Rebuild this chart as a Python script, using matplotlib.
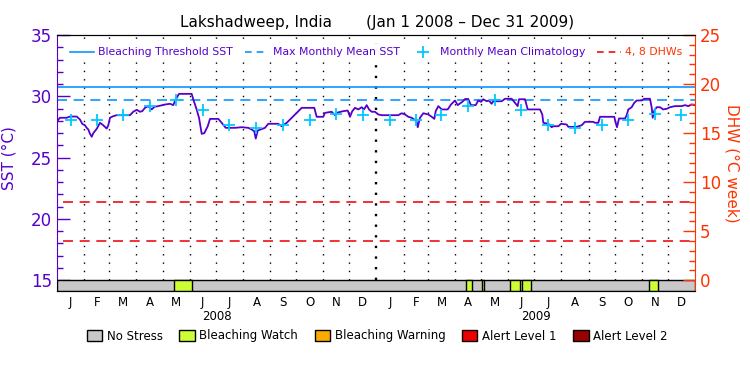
import matplotlib
matplotlib.use('Agg')
import matplotlib.pyplot as plt
import matplotlib.patches as mpatches
import matplotlib.transforms as mtransforms
from matplotlib.lines import Line2D
import pandas as pd

plt.rcParams['font.family'] = ['DejaVu Sans']

# SST (deg C) vs day number since Jan 1 2008
sst_day = [0, 1.5, 3.4, 11, 15, 22.6, 26.4, 29, 32, 34, 35.9, 37.8, 39.8, 41.6, 45.5, 49.3,
           53, 57, 58.8, 60.7, 64.5, 68.4, 83.6, 87.4, 91.3, 95.1, 97.7, 100.8, 104.6, 108.5,
           111.5, 116, 123.7, 129.5, 133.2, 136, 139.8, 154.3, 156.2, 160, 162.7, 164.6, 165.8,
           168.8, 172.7, 175.3, 184.8, 188.7, 193.3, 203.9, 211.6, 219.2, 223.1, 226, 227.7,
           230, 238.3, 242.1, 253.5, 257.4, 263.2, 272.7, 280.4, 294.8, 297.5, 305.1, 307,
           314.7, 318.5, 321.6, 328, 333.1, 335.7, 338.3, 341.4, 345.2, 349.1, 351.7, 354.8,
           357.5, 360.5, 364.3, 368.1, 372, 391, 394.9, 398.7, 402.5, 406.4, 409.4, 412.1,
           413.3, 415.9, 419.7, 425.4, 429.3, 432.3, 433.9, 436.9, 440.8, 447.6, 451.4, 456,
           459.1, 464.4, 467.5, 471.2, 474.3, 479.7, 482.7, 485.8, 488.4, 492.3, 494.9, 498,
           499.8, 509.5, 513.3, 520.9, 524.7, 527.8, 529.3, 536.2, 539.3, 553.4, 556, 557.2,
           562.9, 566.8, 568.6, 574.4, 577.5, 584, 585.8, 595.4, 601.1, 604.9, 614.4, 616.4,
           620.2, 622.1, 638.5, 640.1, 641.6, 643.9, 650.8, 652.7, 654.6, 658.4, 661.4, 664.2,
           669.9, 672.9, 679.4, 681.4, 682.5, 684.3, 687.1, 690.9, 694.6, 698.5, 702.3, 708,
           715.7, 719.5, 723.3, 727.2, 731]
sst_val = [27.86, 28.1, 28.25, 28.25, 28.35, 28.35, 28.1, 27.75, 27.64, 27.43, 27.29, 26.94,
           26.7, 27.0, 27.35, 27.84, 27.64, 27.37, 27.64, 28.25, 28.38, 28.46, 28.46, 28.74,
           28.9, 28.74, 28.79, 29.06, 29.2, 28.93, 29.14, 29.2, 29.33, 29.39, 29.28, 29.74,
           30.2, 30.2, 29.74, 28.93, 28.25, 27.43, 26.94, 27.0, 27.56, 28.16, 28.16, 27.84,
           27.43, 27.43, 27.48, 27.43, 27.29, 27.15, 26.55, 27.21, 27.43, 27.76, 27.76, 27.56,
           27.84, 28.52, 29.06, 29.06, 28.33, 28.33, 28.65, 28.74, 28.46, 28.68, 28.79, 28.84,
           28.33, 28.79, 29.06, 28.93, 29.11, 28.93, 29.28, 28.93, 28.74, 28.74, 28.52, 28.46,
           28.46, 28.62, 28.52, 28.33, 28.25, 28.1, 27.92, 27.48, 28.25, 28.62, 28.52, 28.33,
           28.16, 28.79, 29.2, 28.93, 28.93, 29.33, 29.66, 29.28, 29.55, 29.78, 29.78, 29.28,
           29.28, 29.66, 29.55, 29.76, 29.6, 29.66, 29.39, 29.6, 29.6, 29.8, 29.8, 29.47, 29.2,
           29.76, 29.76, 28.93, 28.93, 28.52, 27.84, 27.76, 27.48, 27.56, 27.56, 27.76, 27.7,
           27.51, 27.51, 27.64, 27.92, 27.92, 27.84, 27.84, 28.33, 28.33, 27.84, 27.48, 28.19,
           28.19, 28.46, 28.93, 29.11, 29.47, 29.66, 29.66, 29.8, 29.8, 29.06, 28.25, 28.84,
           29.11, 29.11, 28.93, 28.98, 29.11, 29.2, 29.2, 29.28, 29.2, 29.33, 29.28]

# monthly mean climatology, Jan..Dec
clim = [28.05, 28.05, 28.49, 29.25, 29.72, 28.87, 27.64, 27.38, 27.64, 28.05, 28.58, 28.49]
mmm = 29.72
threshold = mmm + 1.0
dhw_levels = [4, 8]

# stress strip: bleaching watch periods (start day, end day)
watch_start = [134.4, 468.7, 487.5, 518.6, 532.4, 677.9]
watch_end = [154.9, 475.4, 489.1, 530.2, 543.5, 688.4]

month_letters = ['J', 'F', 'M', 'A', 'M', 'J', 'J', 'A', 'S', 'O', 'N', 'D']
years = ['2008', '2009']

purple = '#5500cc'
orange = '#ff3300'
blue = '#0a96ff'
cyan = '#00c8ff'

t0 = pd.Timestamp('2008-01-01')
bounds = [(d - t0).days for d in pd.date_range('2008-01-01', '2010-01-01', freq='MS')]
mids = [(bounds[i] + bounds[i + 1]) / 2 for i in range(len(bounds) - 1)]
ndays = bounds[-1]

fig = plt.figure(figsize=(7.5, 3.75), dpi=100)
fig.subplots_adjust(left=0.076, right=0.9267, top=0.9067, bottom=0.2248)
ax = fig.add_subplot(111)
ax2 = ax.twinx()

ylo, yhi = 14.15, 35
ax.set_ylim(ylo, yhi)
ax2.set_ylim((ylo - 15) * 1.25, 25)
ax.set_xlim(0, ndays)

# month separators, the year boundary drawn heavier
for b in bounds[1:-1]:
    if b == 366:
        ax.vlines(b, 15, yhi, colors='black', linestyles=(0, (1, 3.5)), linewidth=1.7, zorder=1)
    else:
        ax.vlines(b, 15, yhi, colors='black', linestyles=(0, (1, 5)), linewidth=1, zorder=1)

ax.axhline(threshold, color=blue, lw=1.2, zorder=2)
ax.axhline(mmm, color=blue, lw=1.2, ls=(0, (6, 4)), zorder=2)
for lv in dhw_levels:
    ax2.axhline(lv, color='#ee1111', lw=1.2, ls=(0, (6, 4)), xmin=0.01)

ax.plot(sst_day, sst_val, color=purple, lw=1.3, zorder=4)
ax.plot(mids, clim + clim, ls='none', marker='+', ms=9, mew=1.3, color=cyan, zorder=5)

# stress strip
ax.broken_barh([(0, ndays)], (ylo, 15 - ylo), facecolors='#c8c8c8', edgecolors='black', lw=1, zorder=3)
ax.broken_barh([(s, e - s) for s, e in zip(watch_start, watch_end)], (ylo, 15 - ylo),
               facecolors='#ccff33', edgecolors='black', lw=1, zorder=3)

# axes styling
ax.spines['left'].set_color(purple)
ax.spines['right'].set_visible(False)
ax2.spines['right'].set_color(orange)
ax2.spines['left'].set_visible(False)
ax.set_yticks([15, 20, 25, 30, 35])
ax.set_yticks(range(15, 36), minor=True)
ax.tick_params(axis='y', which='major', direction='in', length=9, width=1, colors=purple, labelsize=12)
ax.tick_params(axis='y', which='minor', direction='in', length=4.5, width=1, colors=purple)
ax2.set_yticks([0, 5, 10, 15, 20, 25])
ax2.set_yticks(range(0, 26), minor=True)
ax2.tick_params(axis='y', which='major', direction='in', length=9, width=1, colors=orange, labelsize=12)
ax2.tick_params(axis='y', which='minor', direction='in', length=4.5, width=1, colors=orange)

ax.set_xticks(mids)
ax.set_xticklabels(month_letters * 2, fontsize=8.5)
ax.tick_params(axis='x', length=0, pad=4)
trans = mtransforms.blended_transform_factory(ax.transData, ax.transAxes)
for i, yr in enumerate(years):
    ax.text(bounds[i * 12] + 183, -0.1, yr, transform=trans, ha='center', va='center', fontsize=8.5)

ax.set_ylabel('SST (°C)', color=purple, fontsize=11)
ax.yaxis.set_label_coords(-0.063, 0.52)
ax2.set_ylabel('DHW (°C week)', color=orange, fontsize=11, rotation=270, va='center')
ax2.yaxis.set_label_coords(1.058, 0.5)

fig.text(0.503, 1 - 22 / 375, 'Lakshadweep, India       (Jan 1 2008 \u2013 Dec 31 2009)',
         ha='center', va='center', fontsize=11)

# top legend
handles = [Line2D([], [], color=blue, lw=1.2),
           Line2D([], [], color=blue, lw=1.2, ls=(0, (4, 3))),
           Line2D([], [], color=cyan, ls='none', marker='+', ms=8, mew=1.3),
           Line2D([], [], color='#ee1111', lw=1.2, ls=(0, (4, 3)))]
labels = ['Bleaching Threshold SST', 'Max Monthly Mean SST', 'Monthly Mean Climatology', '4, 8 DHWs']
leg = ax2.legend(handles, labels, loc='upper center', bbox_to_anchor=(0.5, 0.985), ncol=4,
                 fontsize=7.8, frameon=True, framealpha=1, edgecolor='none', facecolor='white',
                 handlelength=2.2, handletextpad=0.4, columnspacing=1.1, borderpad=0.3)
for txt, c in zip(leg.get_texts(), [purple, purple, purple, orange]):
    txt.set_color(c)

# bottom legend
stress_cols = ['#c8c8c8', '#ccff33', '#ffaa00', '#ee0000', '#990000']
stress_names = ['No Stress', 'Bleaching Watch', 'Bleaching Warning', 'Alert Level 1', 'Alert Level 2']
patches = [mpatches.Patch(facecolor=c, edgecolor='black', lw=1) for c in stress_cols]
fig.legend(patches, stress_names, loc='center', bbox_to_anchor=(0.503, 1 - 336 / 375), ncol=5,
           frameon=False, fontsize=8.5, handlelength=1.3, handleheight=1.1,
           handletextpad=0.4, columnspacing=1.4)

fig.savefig('out.png', dpi=100)
